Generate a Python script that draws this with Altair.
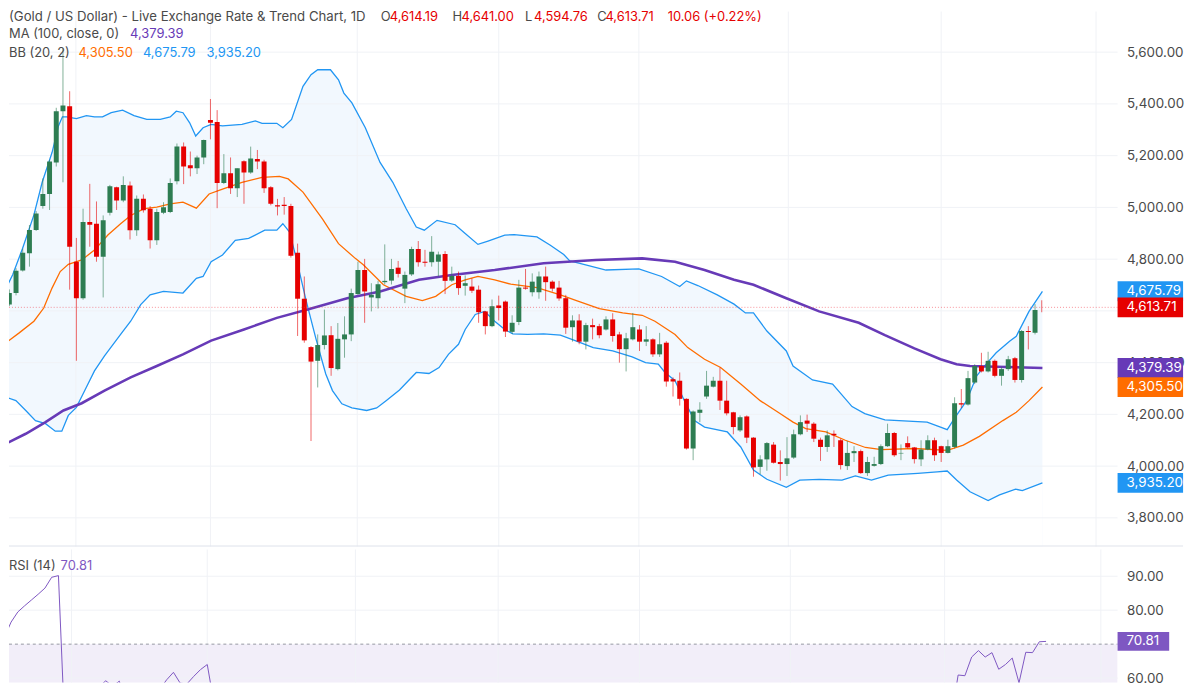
import altair as alt
import pandas as pd

# ---------------- data ----------------
opens = [
    4625, 4669, 4756, 4823, 4913, 5005, 5052, 5174, 5372, 5391,
    4790, 4649, 4944, 4937, 4809, 4979, 5078, 5027, 5085, 4912,
    5033, 4995, 4873, 4979, 4982, 5101, 5235, 5163, 5151, 5193,
    5338, 5330, 5094, 5132, 5074, 5178, 5135, 5187, 5177, 5078,
    5008, 5010, 5005, 4825, 4647, 4460, 4407, 4468, 4506, 4375,
    4490, 4509, 4665, 4758, 4652, 4649, 4711, 4717, 4767, 4686,
    4741, 4839, 4790, 4788, 4790, 4820, 4717, 4735, 4697, 4694,
    4682, 4598, 4541, 4621, 4636, 4519, 4557, 4690, 4672, 4672,
    4733, 4713, 4690, 4649, 4537, 4563, 4481, 4545, 4541, 4528,
    4567, 4509, 4452, 4490, 4528, 4481, 4490, 4432, 4477, 4336,
    4330, 4260, 4068, 4206, 4269, 4307, 4330, 4253, 4208, 4138,
    4192, 4110, 3997, 4026, 4083, 4016, 4008, 4033, 4123, 4176,
    4164, 4102, 4074, 4125, 4100, 4000, 4050, 4058, 3973, 4001,
    4008, 4077, 4128, 4049, 4089, 4072, 4026, 4064, 4100, 4077,
    4051, 4074, 4243, 4238, 4323, 4387, 4366, 4407, 4349, 4375,
    4417, 4333, 4522, 4515, 4614.19,
]
highs = [
    4683, 4765, 4841, 4932, 4986, 5112, 5184, 5385, 5615, 5449,
    4882, 4995, 5091, 5023, 4969, 5087, 5080, 5120, 5100, 5046,
    5050, 5005, 4995, 5020, 5112, 5247, 5251, 5216, 5200, 5262,
    5419, 5376, 5206, 5193, 5151, 5182, 5235, 5222, 5184, 5082,
    5033, 5040, 5014, 4860, 4733, 4464, 4509, 4605, 4541, 4553,
    4579, 4686, 4790, 4801, 4707, 4716, 4857, 4801, 4793, 4752,
    4848, 4870, 4836, 4889, 4829, 4831, 4771, 4752, 4737, 4726,
    4698, 4600, 4644, 4659, 4640, 4583, 4720, 4762, 4745, 4752,
    4771, 4718, 4716, 4662, 4583, 4587, 4554, 4570, 4550, 4579,
    4591, 4519, 4515, 4592, 4545, 4541, 4494, 4515, 4483, 4343,
    4362, 4262, 4215, 4247, 4368, 4345, 4381, 4330, 4210, 4196,
    4196, 4112, 4042, 4093, 4093, 4061, 4112, 4141, 4196, 4199,
    4170, 4110, 4138, 4138, 4106, 4097, 4077, 4064, 4036, 4036,
    4084, 4164, 4132, 4084, 4115, 4074, 4100, 4119, 4110, 4079,
    4102, 4266, 4298, 4368, 4394, 4438, 4442, 4412, 4384, 4426,
    4422, 4526, 4541, 4626, 4641.00,
]
lows = [
    4618, 4660, 4752, 4771, 4909, 4995, 4990, 5158, 5097, 4682,
    4407, 4643, 4848, 4790, 4652, 4969, 4990, 5020, 4876, 4890,
    4980, 4841, 4855, 4974, 4978, 5089, 5090, 5120, 5129, 5167,
    5263, 4997, 5090, 5052, 5040, 5014, 5130, 5148, 5056, 5008,
    4969, 4972, 4806, 4503, 4477, 4097, 4304, 4451, 4349, 4370,
    4419, 4483, 4662, 4554, 4598, 4609, 4702, 4702, 4729, 4630,
    4735, 4771, 4771, 4771, 4733, 4665, 4712, 4662, 4659, 4669,
    4554, 4509, 4537, 4563, 4499, 4511, 4545, 4682, 4656, 4647,
    4639, 4675, 4639, 4511, 4481, 4471, 4451, 4490, 4494, 4524,
    4481, 4400, 4366, 4486, 4445, 4464, 4422, 4422, 4307, 4269,
    4234, 4064, 4023, 4170, 4260, 4304, 4217, 4196, 4123, 4132,
    4089, 3959, 3969, 3982, 4010, 3944, 3962, 4028, 4119, 4132,
    4093, 4020, 4055, 4074, 3987, 3985, 4016, 3970, 3962, 3998,
    4004, 4074, 4036, 4023, 4068, 4010, 4000, 4061, 4020, 4016,
    4049, 4068, 4225, 4234, 4317, 4362, 4362, 4343, 4311, 4368,
    4323, 4323, 4451, 4509, 4594.76,
]
closes = [
    4669, 4755, 4825, 4913, 4976, 5052, 5177, 5372, 5394, 4848,
    4649, 4944, 4933, 4809, 4950, 5082, 5027, 5087, 4912, 5033,
    4989, 4873, 4982, 5001, 5094, 5235, 5158, 5151, 5193, 5261,
    5327, 5094, 5132, 5074, 5151, 5135, 5189, 5177, 5074, 5014,
    5003, 5005, 4813, 4647, 4486, 4404, 4468, 4505, 4379, 4492,
    4509, 4669, 4758, 4675, 4662, 4703, 4716, 4762, 4743, 4739,
    4839, 4788, 4786, 4829, 4818, 4716, 4735, 4688, 4707, 4678,
    4595, 4541, 4618, 4611, 4520, 4554, 4690, 4686, 4713, 4733,
    4711, 4686, 4648, 4535, 4563, 4481, 4545, 4537, 4506, 4567,
    4503, 4452, 4494, 4537, 4481, 4490, 4432, 4471, 4327, 4327,
    4260, 4068, 4211, 4218, 4311, 4330, 4253, 4204, 4151, 4189,
    4110, 3995, 4026, 4089, 4013, 4008, 4030, 4123, 4170, 4164,
    4106, 4074, 4119, 4119, 4004, 4051, 4058, 3973, 4016, 4008,
    4077, 4128, 4042, 4051, 4072, 4027, 4064, 4100, 4042, 4051,
    4077, 4243, 4238, 4340, 4387, 4366, 4407, 4349, 4375, 4413,
    4333, 4522, 4518, 4603.65, 4613.71,
]
rsi = [
    72, 76.5, 79.5, 81.3, 83, 84.7, 86.5, 89.7, 90.2, 42,
    48, 56.6, 55.5, 52, 57.5, 59.2, 57.6, 59.1, 52, 56.4,
    55.2, 51.5, 54.2, 56.8, 59.5, 61.7, 58.5, 58.3, 60.5, 62.5,
    64, 52.5, 54.9, 53.8, 54.7, 54.6, 56.4, 55.9, 52.5, 50.5,
    50, 50, 45, 39, 36, 35, 38, 40, 37, 41,
    42, 48, 51, 48.5, 48.5, 50, 50.5, 52, 51.5, 51.5,
    55, 53, 53, 54, 53.8, 50.5, 51, 49.8, 50.3, 49.6,
    47.5, 46, 48.5, 48.3, 45.5, 46.5, 50, 50, 50.5, 51,
    50.5, 49.8, 48.8, 46, 46.7, 44.8, 46.5, 46.3, 45.5, 46.5,
    45, 43.8, 45, 46, 44.8, 45, 43.5, 44.5, 40.5, 40.3,
    38.5, 34, 38.5, 38.8, 40, 40.6, 38.8, 37.7, 36.5, 37.8,
    36, 33, 34, 36, 34.5, 34.4, 35, 37.5, 38.8, 38.6,
    40, 39.5, 41, 41, 38.5, 40.5, 41, 39, 41, 41.5,
    45, 48.5, 45.5, 45.8, 46.5, 45, 47, 48.5, 46.5, 47,
    48.5, 60.9, 60.7, 66.2, 68.1, 66.2, 67.5, 62.6, 64, 65.9,
    58.6, 67.6, 67.5, 70.7, 70.81,
]
# (candle index, value) points
bb_upper = [
    (-0.48, 4688), (0.5, 4740), (1.97, 4841), (3.67, 4971), (4.9, 5097), (6.37, 5212),
    (7.34, 5316), (7.92, 5350), (8.57, 5350), (10.0, 5343), (11.5, 5355), (12.7, 5350),
    (13.9, 5350), (15.2, 5366), (16.9, 5376), (18.6, 5355), (20.5, 5340), (22.5, 5340),
    (24.0, 5350), (24.9, 5372), (25.9, 5366), (26.9, 5327), (27.8, 5276), (28.9, 5308),
    (30.1, 5321), (31.8, 5315), (34.7, 5321), (36.7, 5334), (37.7, 5325), (39.9, 5325),
    (40.8, 5308), (42.1, 5340), (43.8, 5468), (45.0, 5513), (46.0, 5532), (47.9, 5532),
    (49.1, 5493), (49.9, 5442), (51.1, 5404), (53.1, 5308), (55.3, 5174), (57.2, 5097),
    (59.2, 4995), (60.7, 4924), (61.9, 4912), (63.8, 4950), (66.5, 4933), (68.0, 4899),
    (69.9, 4857), (71.4, 4870), (73.9, 4893), (75.3, 4895), (78.7, 4886), (80.7, 4854),
    (82.7, 4818), (83.6, 4793), (85.1, 4784), (89.0, 4758), (93.9, 4762), (97.3, 4733),
    (100.0, 4694), (101.0, 4716), (102.7, 4698), (105.6, 4662), (108.1, 4626), (109.8, 4592),
    (111.0, 4592), (113.0, 4522), (115.9, 4445), (116.9, 4387), (119.8, 4333), (122.8, 4317),
    (125.7, 4230), (127.6, 4203), (130.6, 4179), (136.9, 4170), (138.9, 4151), (139.9, 4141),
    (141.1, 4189), (142.8, 4253), (144.3, 4349), (145.7, 4394), (147.2, 4438), (149.2, 4483),
    (150.2, 4502), (152.1, 4598), (154.1, 4675.79),
]
bb_lower = [
    (-0.48, 4266), (0.98, 4253), (2.45, 4215), (3.9, 4176), (5.4, 4164), (6.85, 4135),
    (7.83, 4135), (8.8, 4196), (10.0, 4227), (11.25, 4292), (12.7, 4368), (14.2, 4426),
    (16.6, 4509), (18.1, 4560), (19.6, 4624), (21.0, 4662), (23.0, 4675), (25.9, 4669),
    (27.9, 4726), (28.9, 4733), (30.1, 4790), (31.8, 4816), (33.7, 4873), (35.7, 4880),
    (38.1, 4912), (39.9, 4912), (40.8, 4937), (41.8, 4905), (42.8, 4803), (44.3, 4637),
    (45.7, 4496), (47.2, 4356), (48.2, 4292), (49.6, 4241), (51.1, 4225), (53.3, 4215),
    (54.8, 4225), (56.2, 4253), (58.2, 4294), (60.7, 4362), (62.6, 4358), (64.1, 4381),
    (65.5, 4432), (67.0, 4471), (68.0, 4528), (69.5, 4586), (70.9, 4598), (72.4, 4560),
    (73.9, 4528), (75.1, 4511), (77.3, 4509), (79.7, 4511), (82.2, 4506), (84.6, 4483),
    (87.1, 4458), (90.0, 4445), (92.9, 4422), (94.9, 4400), (96.8, 4394), (97.8, 4362),
    (99.3, 4330), (100.7, 4253), (102.2, 4176), (103.7, 4151), (107.1, 4132), (109.1, 4074),
    (111.0, 3985), (113.0, 3949), (115.9, 3918), (117.9, 3946), (120.8, 3949), (124.2, 3946),
    (126.2, 3962), (128.6, 3946), (131.1, 3965), (135.5, 3972), (138.4, 3978), (139.9, 3981),
    (141.3, 3946), (143.3, 3901), (146.0, 3867), (147.7, 3889), (150.1, 3911), (151.1, 3905),
    (154.1, 3935.20),
]
bb_mid = [
    (-0.48, 4477), (1.47, 4515), (3.67, 4560), (5.13, 4611), (6.37, 4688), (7.59, 4752),
    (8.8, 4780), (10.8, 4797), (12.7, 4835), (14.7, 4893), (16.6, 4937), (18.1, 4969),
    (20.1, 4995), (22.0, 5001), (24.0, 5014), (25.9, 5020), (27.9, 4997), (29.8, 5052),
    (31.8, 5071), (34.7, 5097), (37.7, 5116), (40.3, 5120), (41.6, 5110), (43.8, 5059),
    (46.7, 4956), (49.1, 4860), (51.6, 4803), (52.8, 4778), (55.8, 4701), (59.2, 4656),
    (61.6, 4640), (63.6, 4656), (66.0, 4701), (68.0, 4720), (69.9, 4733), (72.4, 4720),
    (74.8, 4703), (78.7, 4690), (82.2, 4662), (84.6, 4640), (88.0, 4609), (91.5, 4592),
    (94.4, 4583), (96.3, 4560), (99.3, 4509), (101.2, 4458), (103.7, 4413), (106.1, 4381),
    (109.1, 4317), (112.0, 4253), (114.9, 4204), (116.9, 4170), (118.8, 4145), (121.8, 4132),
    (124.7, 4100), (127.7, 4072), (130.1, 4064), (135.0, 4068), (139.9, 4061), (142.3, 4081),
    (144.7, 4115), (148.2, 4176), (150.2, 4208), (152.1, 4253), (154.1, 4305.50),
]
ma100 = [
    (-0.48, 4087), (2.45, 4125), (5.4, 4170), (8.07, 4215), (10.8, 4243), (14.2, 4292),
    (18.1, 4343), (22.0, 4387), (25.9, 4432), (30.1, 4485), (35.0, 4528), (39.9, 4573),
    (44.5, 4605), (50.4, 4649), (55.3, 4675), (61.1, 4720), (66.0, 4739), (72.4, 4758),
    (79.7, 4784), (87.5, 4797), (94.4, 4803), (99.3, 4790), (103.7, 4758), (108.1, 4720),
    (111.0, 4701), (115.9, 4649), (120.8, 4598), (126.7, 4554), (130.6, 4506), (135.0, 4455),
    (138.9, 4413), (141.3, 4394), (143.3, 4387), (147.2, 4384), (154.1, 4379.39),
]
price_grid = [3800, 4000, 4200, 4400, 4600, 4800, 5000, 5200, 5400, 5600]
price_labels = [3800, 4000, 4200, 4400, 4800, 5000, 5200, 5400, 5600]  # 4,600 hidden by badge
rsi_ticks = [60, 80, 90]
rsi_band = [70, 30]
month_starts = [9.93, 30.0, 51.9, 73.0, 93.9, 116.2, 139.0, 162.1]

# ---------------- styling ----------------
FONT = "Inter"
DARK = "#4a4a4a"
RED = "#e60000"
GREEN = "#2e7d52"
BLUE = "#2196f3"
ORANGE = "#ff6d00"
PURPLE = "#673ab7"
RSI_C = "#7e57c2"
GRID = "#f0f2f6"

W, H1, H2 = 1117, 539, 134
xs = alt.Scale(domain=[0.69, 164.57], nice=False, zero=False)
ys = alt.Scale(domain=[3689.3, 5757.0], nice=False, zero=False)
rs = alt.Scale(domain=[58.71, 97.9], nice=False, zero=False)

price_axis = alt.Axis(orient="right", values=price_labels, format=",.2f", grid=False,
                      ticks=False, domain=False, labelPadding=9, labelFontSize=13.5,
                      labelColor=DARK, labelFont=FONT, title=None)
rsi_axis = alt.Axis(orient="right", values=rsi_ticks, format=".2f", grid=False,
                    ticks=False, domain=False, labelPadding=9, labelFontSize=13.5,
                    labelColor=DARK, labelFont=FONT, title=None)


def X(f):
    return alt.X(f, scale=xs, axis=None)


def Y(f):
    return alt.Y(f, scale=ys, axis=price_axis)


def R(f):
    return alt.Y(f, scale=rs, axis=rsi_axis)


def pts(p):
    return pd.DataFrame(p, columns=["idx", "v"])


one = pd.DataFrame({"k": [0]})


def label(text, x, y, color, size=13):
    return alt.Chart(one).mark_text(text=text, align="left", baseline="middle", color=color,
                                    fontSize=size, font=FONT).encode(
        x=alt.value(x), y=alt.value(y))


n = len(closes)
candles = pd.DataFrame({"idx": list(range(n)), "open": opens, "high": highs,
                        "low": lows, "close": closes})
candles["dir"] = ["up" if c >= o else "down" for o, c in zip(opens, closes)]
cc = alt.Color("dir:N", scale=alt.Scale(domain=["up", "down"], range=[GREEN, RED]), legend=None)

# ---------------- main panel ----------------
band = alt.Chart(pts(bb_upper)).mark_area(color="#f2f8fe", clip=True).encode(
    x=X("idx:Q"), y=Y("v:Q"), y2=alt.value(H1))
cover = alt.Chart(pts(bb_lower)).mark_area(color="#ffffff", clip=True).encode(
    x=X("idx:Q"), y=Y("v:Q"), y2=alt.value(H1))
hgrid = alt.Chart(pd.DataFrame({"v": price_grid})).mark_rule(color=GRID, strokeWidth=1).encode(
    y=Y("v:Q"), x=alt.value(0), x2=alt.value(W))
vgrid = alt.Chart(pd.DataFrame({"idx": month_starts})).mark_rule(color=GRID, strokeWidth=1).encode(
    x=X("idx:Q"), y=alt.value(0), y2=alt.value(H1))
up_line = alt.Chart(pts(bb_upper)).mark_line(color=BLUE, strokeWidth=1.3, clip=True).encode(
    x=X("idx:Q"), y=Y("v:Q"))
lo_line = alt.Chart(pts(bb_lower)).mark_line(color=BLUE, strokeWidth=1.3, clip=True).encode(
    x=X("idx:Q"), y=Y("v:Q"))
mid_line = alt.Chart(pts(bb_mid)).mark_line(color=ORANGE, strokeWidth=1.3, clip=True).encode(
    x=X("idx:Q"), y=Y("v:Q"))
ma_line = alt.Chart(pts(ma100)).mark_line(color=PURPLE, strokeWidth=2.6, clip=True).encode(
    x=X("idx:Q"), y=Y("v:Q"))
wicks = alt.Chart(candles).mark_rule(strokeWidth=1, opacity=0.6, clip=True).encode(
    x=X("idx:Q"), y=Y("low:Q"), y2="high:Q", color=cc)
bodies = alt.Chart(candles).mark_bar(size=5, clip=True).encode(
    x=X("idx:Q"), y=Y("open:Q"), y2="close:Q", color=cc)
last_close = closes[-1]
price_line = alt.Chart(pd.DataFrame({"v": [last_close]})).mark_rule(
    color="#f23645", opacity=0.55, strokeDash=[1, 2], strokeWidth=1).encode(
    y=Y("v:Q"), x=alt.value(0), x2=alt.value(W))
separator = alt.Chart(one).mark_rule(color="#e0e3eb", strokeWidth=1).encode(
    y=alt.value(H1 - 0.5), x=alt.value(0), x2=alt.value(1183))

badge_layers = []
for v, col in [(bb_upper[-1][1], BLUE), (last_close, RED), (ma100[-1][1], PURPLE),
               (bb_mid[-1][1], ORANGE), (bb_lower[-1][1], BLUE)]:
    d = pd.DataFrame({"v": [v], "label": [f"{v:,.2f}"]})
    badge_layers.append(alt.Chart(d).mark_rule(color=col, strokeWidth=20).encode(
        y=Y("v:Q"), x=alt.value(W), x2=alt.value(W + 66)))
    badge_layers.append(alt.Chart(d).mark_text(align="left", baseline="middle", color="white",
                                               fontSize=13.5, font=FONT).encode(
        y=Y("v:Q"), x=alt.value(W + 9), text="label:N"))

chg = closes[-1] - closes[-2]
pct = chg / closes[-2] * 100
legend_layers = [
    label("(Gold / US Dollar) - Live Exchange Rate & Trend Chart, 1D", 0, 6, DARK, 13.3),
    label("O", 374.7, 6, DARK), label(f"{opens[-1]:,.2f}", 383.7, 6, RED),
    label("H", 447, 6, DARK), label(f"{highs[-1]:,.2f}", 456, 6, RED),
    label("L", 520, 6, DARK), label(f"{lows[-1]:,.2f}", 529, 6, RED),
    label("C", 592.7, 6, DARK), label(f"{closes[-1]:,.2f}", 601, 6, RED),
    label(f"{chg:.2f} ({pct:+.2f}%)", 663.7, 6, RED),
    label("MA (100, close, 0)", 0, 23, DARK), label(f"{ma100[-1][1]:,.2f}", 122, 23, PURPLE),
    label("BB (20, 2)", 0, 42, DARK), label(f"{bb_mid[-1][1]:,.2f}", 70, 42, ORANGE),
    label(f"{bb_upper[-1][1]:,.2f}", 135, 42, BLUE), label(f"{bb_lower[-1][1]:,.2f}", 199, 42, BLUE),
]

main = alt.layer(band, cover, hgrid, vgrid, up_line, lo_line, mid_line, ma_line, wicks, bodies,
                 price_line, separator, *legend_layers, *badge_layers).properties(width=W, height=H1)

# ---------------- RSI panel ----------------
band_df = pd.DataFrame({"hi": [rsi_band[0]], "lo": [rsi_band[1]]})
rsi_df = pd.DataFrame({"idx": list(range(len(rsi))), "v": rsi})
r_band = alt.Chart(band_df).mark_rect(color=RSI_C, opacity=0.1, clip=True).encode(
    x=alt.value(0), x2=alt.value(W), y=R("hi:Q"), y2="lo:Q")
r_hgrid = alt.Chart(pd.DataFrame({"v": rsi_ticks})).mark_rule(color=GRID).encode(
    y=R("v:Q"), x=alt.value(0), x2=alt.value(W))
r_vgrid = alt.Chart(pd.DataFrame({"idx": month_starts})).mark_rule(color=GRID).encode(
    x=X("idx:Q"), y=alt.value(0), y2=alt.value(H2))
r_dash = alt.Chart(band_df).mark_rule(color="#9598a1", strokeDash=[3, 3], strokeWidth=1).encode(
    y=R("hi:Q"), x=alt.value(0), x2=alt.value(W))
r_line = alt.Chart(rsi_df).mark_line(color=RSI_C, strokeWidth=1, clip=True).encode(
    x=X("idx:Q"), y=R("v:Q"))
r_last = pd.DataFrame({"v": [rsi[-1]], "label": [f"{rsi[-1]:.2f}"]})
r_badge = alt.Chart(r_last).mark_rule(color=RSI_C, strokeWidth=19).encode(
    y=R("v:Q"), x=alt.value(W), x2=alt.value(W + 52))
r_badge_t = alt.Chart(r_last).mark_text(align="left", baseline="middle", color="white",
                                        fontSize=13.5, font=FONT).encode(
    y=R("v:Q"), x=alt.value(W + 9), text="label:N")
r_labels = [label("RSI (14)", 0, 17, DARK), label(f"{rsi[-1]:.2f}", 52, 17, RSI_C)]

rsi_panel = alt.layer(r_band, r_hgrid, r_vgrid, r_dash, r_line, *r_labels, r_badge,
                      r_badge_t).properties(width=W, height=H2)

chart = alt.vconcat(main, rsi_panel, spacing=1).properties(
    padding={"left": 0, "top": 0, "right": 0, "bottom": 0}, background="white"
).configure_view(stroke=None)

chart.save("out.html", embed_options={"renderer": "svg", "actions": False})
